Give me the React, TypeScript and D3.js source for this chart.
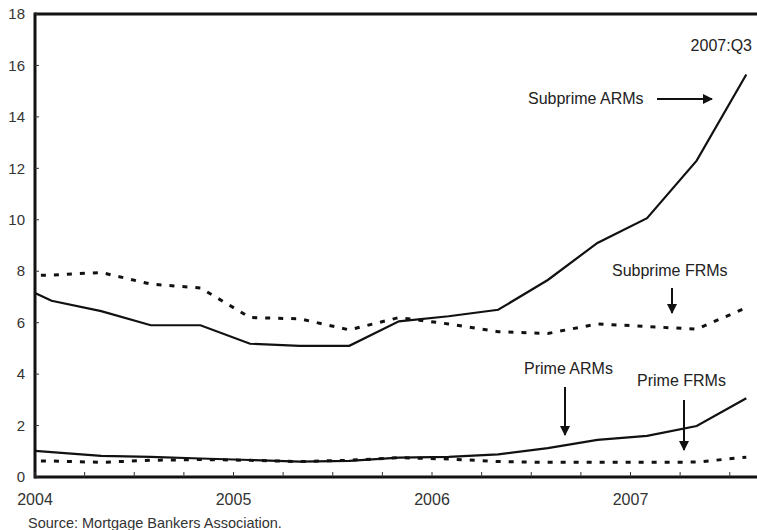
import React, { useEffect } from "react";
import * as d3 from "d3";

const quarters = [
  "2003:Q4",
  "2004:Q1", "2004:Q2", "2004:Q3", "2004:Q4",
  "2005:Q1", "2005:Q2", "2005:Q3", "2005:Q4",
  "2006:Q1", "2006:Q2", "2006:Q3", "2006:Q4",
  "2007:Q1", "2007:Q2", "2007:Q3",
];
const subprimeARMs = [7.75, 6.85, 6.45, 5.9, 5.9, 5.18, 5.1, 5.1, 6.05, 6.25, 6.5, 7.66, 9.1, 10.06, 12.3, 15.65];
const subprimeFRMs = [7.8, 7.85, 7.95, 7.5, 7.35, 6.2, 6.15, 5.72, 6.2, 5.95, 5.65, 5.58, 5.95, 5.85, 5.75, 6.58];
const primeARMs = [1.1, 0.97, 0.82, 0.78, 0.72, 0.66, 0.6, 0.63, 0.75, 0.78, 0.88, 1.12, 1.44, 1.6, 1.98, 3.06];
const primeFRMs = [0.62, 0.62, 0.57, 0.65, 0.68, 0.65, 0.6, 0.65, 0.75, 0.7, 0.6, 0.57, 0.57, 0.57, 0.58, 0.77];
const yTicks = [0, 2, 4, 6, 8, 10, 12, 14, 16, 18];
const yearLabels = [2004, 2005, 2006, 2007];
const sourceText = "Source: Mortgage Bankers Association.";

const W = 757;
const H = 530;
const left = 35;
const top = 14;
const bottom = 477;
const yearPx = 198.5;

const toTime = (q: string) => {
  const [y, qq] = q.split(":Q");
  return +y + (3 * +qq - 2) / 12;
};

export default function App() {
  useEffect(() => {
    document.body.style.margin = "0";
  }, []);
  const x = d3.scaleLinear().domain([2004, 2004 + (W - left) / yearPx]).range([left, W]);
  const y = d3.scaleLinear().domain([0, 18]).range([bottom, top]);
  const times = quarters.map(toTime);
  const line = (vals: number[]) =>
    d3.line<number>().x((_, i) => x(times[i])).y((v) => y(v))(vals) || "";
  const qTicks = d3.range(2004, 2007.75, 0.25);
  const tickFont = "'Liberation Sans Narrow', 'Arial Narrow', 'Liberation Sans', Arial, sans-serif";
  const lblFont = "'Liberation Sans', Arial, sans-serif";
  return (
    <svg width={W} height={H} style={{ position: "absolute", left: 0, top: 0, background: "#fff" }}>
      <defs>
        <clipPath id="plot">
          <rect x={left} y={top} width={W - left} height={bottom - top} />
        </clipPath>
        <marker id="ah" viewBox="0 0 10 10" refX="9" refY="5" markerWidth="5" markerHeight="5" orient="auto" markerUnits="strokeWidth">
          <path d="M0,0 L10,5 L0,10 z" fill="#111" />
        </marker>
      </defs>
      <g clipPath="url(#plot)" fill="none" stroke="#111">
        <path d={line(subprimeARMs)} strokeWidth={2.2} />
        <path d={line(primeARMs)} strokeWidth={2.2} />
        <path d={line(subprimeFRMs)} strokeWidth={3} strokeDasharray="5 8" />
        <path d={line(primeFRMs)} strokeWidth={3} strokeDasharray="5 8" />
      </g>
      <line x1={left} x2={W} y1={top} y2={top} stroke="#111" strokeWidth={3} />
      <line x1={left} x2={left} y1={top - 1.5} y2={bottom + 1.5} stroke="#111" strokeWidth={3} />
      <line x1={left} x2={W} y1={bottom} y2={bottom} stroke="#111" strokeWidth={3} />
      {yTicks.map((t) => (
        <g key={t}>
          <line x1={left} x2={left + 4} y1={y(t)} y2={y(t)} stroke="#333" strokeWidth={1} />
          <text x={left - 10} y={y(t)} dy="0.35em" textAnchor="end" fontFamily={tickFont} fontSize={15} fill="#333">
            {t}
          </text>
        </g>
      ))}
      {qTicks.map((t) => (
        <line key={t} x1={x(t)} x2={x(t)} y1={bottom} y2={bottom - 5} stroke="#333" strokeWidth={1} />
      ))}
      {yearLabels.map((yr) => (
        <text key={yr} x={x(yr)} y={505} textAnchor="middle" fontFamily={tickFont} fontSize={16} fill="#333">
          {yr}
        </text>
      ))}
      <text x={28} y={528} fontFamily={lblFont} fontSize={14.5} fill="#333">{sourceText}</text>
      <g fontFamily={lblFont} fontSize={16} fill="#222">
        <text x={752} y={51} textAnchor="end">2007:Q3</text>
        <text x={528} y={104}>Subprime ARMs</text>
        <text x={612} y={276}>Subprime FRMs</text>
        <text x={524} y={374}>Prime ARMs</text>
        <text x={637} y={386}>Prime FRMs</text>
      </g>
      <g stroke="#111" strokeWidth={2}>
        <line x1={657} x2={712} y1={99} y2={99} markerEnd="url(#ah)" />
        <line x1={672} x2={672} y1={288} y2={313} markerEnd="url(#ah)" />
        <line x1={565} x2={565} y1={387} y2={435} markerEnd="url(#ah)" />
        <line x1={684} x2={684} y1={400} y2={450} markerEnd="url(#ah)" />
      </g>
    </svg>
  );
}
